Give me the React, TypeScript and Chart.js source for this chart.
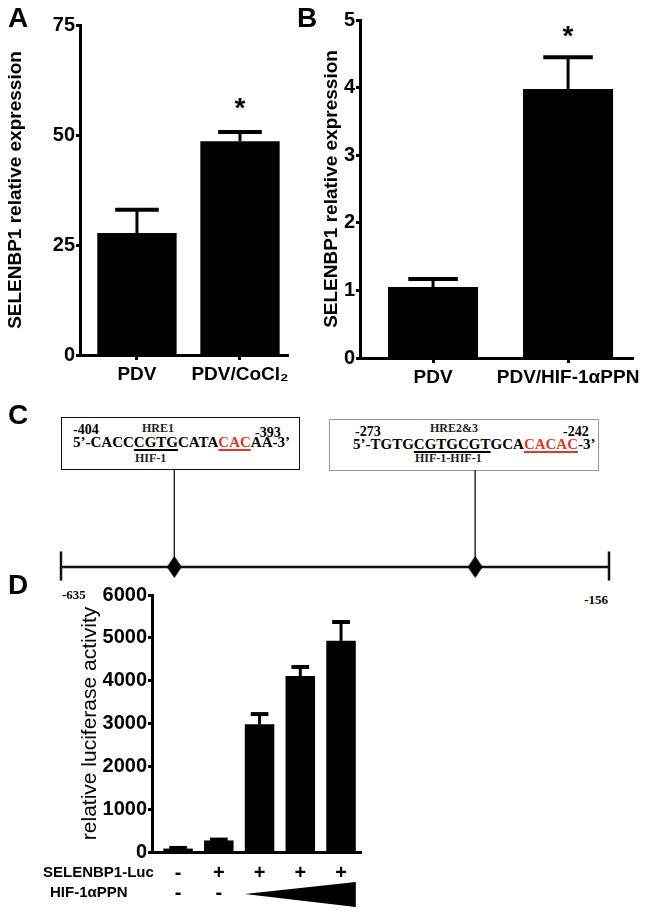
import React, { useEffect, useRef } from 'react';
import { Chart, registerables } from 'chart.js';

Chart.register(...registerables);

const SANS = '"Liberation Sans", Arial, Helvetica, sans-serif';
const SERIF = '"Liberation Serif", "Times New Roman", serif';

// ---------- Panel A ----------
const aLabels = ['PDV', 'PDV/CoCl\u2082'];
const aMeans = [27.7, 48.6];
const aSem = [5.3, 2.1];
const aStars = [false, true];
const aYMax = 75;
const aYStep = 25;

// ---------- Panel B ----------
const bLabels = ['PDV', 'PDV/HIF-1\u03b1PPN'];
const bMeans = [1.05, 3.98];
const bSem = [0.12, 0.47];
const bStars = [false, true];
const bYMax = 5;
const bYStep = 1;

// ---------- Panel C ----------
const promoterRange = [-635, -156];
const hreSites = [-536, -273];

// ---------- Panel D ----------
const dLabels = ['1', '2', '3', '4', '5'];
const dMeans = [80, 270, 2980, 4110, 4930];
const dSem = [15, 20, 240, 210, 440];
const lucRow = ['-', '+', '+', '+', '+'];
const hifRow = ['-', '-', '', '', ''];
const hifWedge = [2, 4];
const dYMax = 6000;
const dYStep = 1000;

const errorBarPlugin = {
  id: 'errorBars',
  afterDatasetsDraw(chart: any, _args: any, opts: any) {
    const { ctx } = chart;
    const meta = chart.getDatasetMeta(0);
    const yScale = chart.scales.y;
    ctx.save();
    ctx.strokeStyle = '#000';
    ctx.fillStyle = '#000';
    meta.data.forEach((bar: any, i: number) => {
      const props = bar.getProps(['x', 'y', 'width'], true);
      const top = yScale.getPixelForValue(opts.means[i] + opts.sem[i]);
      const cap = props.width * opts.capRatio;
      ctx.lineWidth = 3;
      ctx.beginPath();
      ctx.moveTo(props.x, props.y);
      ctx.lineTo(props.x, top);
      ctx.stroke();
      ctx.lineWidth = 4;
      ctx.beginPath();
      ctx.moveTo(props.x - cap / 2, top);
      ctx.lineTo(props.x + cap / 2, top);
      ctx.stroke();
      if (opts.stars && opts.stars[i]) {
        ctx.font = `bold 28px ${SANS}`;
        ctx.textAlign = 'center';
        ctx.textBaseline = 'alphabetic';
        ctx.fillText('*', props.x, top - opts.starGap);
      }
    });
    ctx.restore();
  },
};

const dRowsPlugin = {
  id: 'dRows',
  afterDraw(chart: any) {
    const { ctx } = chart;
    const xScale = chart.scales.x;
    const meta = chart.getDatasetMeta(0);
    const row1 = 293;
    const row2 = 313;
    ctx.save();
    ctx.fillStyle = '#000';
    ctx.textBaseline = 'middle';
    ctx.textAlign = 'left';
    ctx.font = `bold 15px ${SANS}`;
    ctx.fillText('SELENBP1-Luc', 43, row1);
    ctx.fillText('HIF-1\u03b1PPN', 50, row2);
    ctx.font = `bold 20px ${SANS}`;
    ctx.textAlign = 'center';
    lucRow.forEach((s, i) => {
      if (s) ctx.fillText(s, xScale.getPixelForValue(i), row1);
    });
    hifRow.forEach((s, i) => {
      if (s) ctx.fillText(s, xScale.getPixelForValue(i), row2);
    });
    const b0 = meta.data[hifWedge[0]].getProps(['x', 'width'], true);
    const b1 = meta.data[hifWedge[1]].getProps(['x', 'width'], true);
    const x0 = b0.x - b0.width / 2;
    const x1 = b1.x + b1.width / 2;
    ctx.beginPath();
    ctx.moveTo(x0, 314);
    ctx.lineTo(x1, 302);
    ctx.lineTo(x1, 327);
    ctx.closePath();
    ctx.fill();
    ctx.restore();
  },
};

function makeBarChart(canvas: HTMLCanvasElement, cfg: any, extraPlugins: any[] = []) {
  return new Chart(canvas, {
    type: 'bar',
    data: {
      labels: cfg.labels,
      datasets: [
        {
          data: cfg.means,
          backgroundColor: '#000',
          borderWidth: 0,
          barPercentage: cfg.barPct,
          categoryPercentage: 1,
        },
      ],
    },
    options: {
      responsive: false,
      animation: false,
      events: [],
      layout: { padding: cfg.padding },
      plugins: {
        legend: { display: false },
        tooltip: { enabled: false },
        errorBars: {
          means: cfg.means,
          sem: cfg.sem,
          stars: cfg.stars,
          capRatio: cfg.capRatio,
          starGap: cfg.starGap,
        },
      } as any,
      scales: {
        x: {
          afterBuildTicks: (s: any) => {
            s._startValue = cfg.xRange[0];
            s._valueRange = cfg.xRange[1];
          },
          afterFit: (s: any) => {
            s.height = cfg.xHeight;
          },
          border: { display: true, width: 3, color: '#000' },
          grid: {
            display: cfg.xTicks,
            drawOnChartArea: false,
            offset: false,
            tickLength: 5,
            tickWidth: 3,
            tickColor: '#000',
            color: '#000',
          },
          ticks: {
            display: cfg.xLabels,
            color: '#000',
            font: { family: SANS, size: 19, weight: 'bold' },
            padding: 3,
            maxRotation: 0,
            autoSkip: false,
          },
        },
        y: {
          min: 0,
          max: cfg.yMax,
          afterFit: (s: any) => {
            s.width = cfg.yWidth;
          },
          border: { display: true, width: 3, color: '#000' },
          grid: {
            drawOnChartArea: false,
            tickLength: 4,
            tickWidth: 3,
            tickColor: '#000',
            color: '#000',
          },
          ticks: {
            stepSize: cfg.yStep,
            color: '#000',
            font: { family: SANS, size: 20, weight: 'bold' },
            padding: 1,
            callback: (v: any) => String(v),
          },
          title: {
            display: true,
            text: cfg.title,
            color: '#000',
            font: { family: SANS, size: cfg.titleSize, weight: cfg.titleWeight },
            padding: { top: cfg.titlePad, bottom: 0 },
          },
        },
      },
    } as any,
    plugins: [errorBarPlugin, ...extraPlugins],
  });
}

function makeDiamond() {
  const c = document.createElement('canvas');
  c.width = 15;
  c.height = 22;
  const g = c.getContext('2d')!;
  g.fillStyle = '#000';
  g.beginPath();
  g.moveTo(7.5, 0);
  g.lineTo(15, 11);
  g.lineTo(7.5, 22);
  g.lineTo(0, 11);
  g.closePath();
  g.fill();
  return c;
}

const Txt = (p: any) => {
  const size = p.size;
  const style: any = {
    position: 'absolute',
    top: p.base - size * 0.84,
    fontSize: size,
    lineHeight: `${size}px`,
    fontFamily: p.family || SERIF,
    fontWeight: p.weight || 'bold',
    color: p.color || '#000',
    whiteSpace: 'nowrap',
  };
  if (p.right !== undefined) style.right = p.right;
  else style.left = p.x;
  return <div style={style}>{p.children}</div>;
};

const uBlack: any = { textDecoration: 'underline', textDecorationThickness: '1.5px', textUnderlineOffset: '2px' };
const uRed: any = { color: '#e0392b', textDecoration: 'underline', textDecorationThickness: '1.5px', textUnderlineOffset: '2px' };

const panelLetter = (ch: string, x: number, y: number) => (
  <div
    style={{
      position: 'absolute',
      left: x,
      top: y,
      fontFamily: SANS,
      fontWeight: 'bold',
      fontSize: 28,
      lineHeight: '28px',
      color: '#000',
    }}
  >
    {ch}
  </div>
);

export default function App() {
  const aRef = useRef<HTMLCanvasElement>(null);
  const bRef = useRef<HTMLCanvasElement>(null);
  const cRef = useRef<HTMLCanvasElement>(null);
  const dRef = useRef<HTMLCanvasElement>(null);

  useEffect(() => {
    const charts: Chart[] = [];
    charts.push(
      makeBarChart(aRef.current!, {
        labels: aLabels,
        means: aMeans,
        sem: aSem,
        stars: aStars,
        yMax: aYMax,
        yStep: aYStep,
        title: 'SELENBP1 relative expression',
        titleSize: 19,
        titleWeight: 'bold',
        titlePad: 4,
        barPct: 0.77,
        xRange: [-0.553, 2.019],
        padding: { left: 0, top: 25, right: 32, bottom: 0 },
        yWidth: 80,
        xHeight: 45,
        xTicks: true,
        xLabels: true,
        capRatio: 0.55,
        starGap: 15,
      })
    );
    charts.push(
      makeBarChart(bRef.current!, {
        labels: bLabels,
        means: bMeans,
        sem: bSem,
        stars: bStars,
        yMax: bYMax,
        yStep: bYStep,
        title: 'SELENBP1 relative expression',
        titleSize: 19,
        titleWeight: 'bold',
        titlePad: 0,
        barPct: 0.667,
        xRange: [-0.541, 2.022],
        padding: { left: 0, top: 20, right: 17, bottom: 0 },
        yWidth: 40,
        xHeight: 42,
        xTicks: true,
        xLabels: true,
        capRatio: 0.55,
        starGap: 12,
      })
    );
    charts.push(
      makeBarChart(
        dRef.current!,
        {
          labels: dLabels,
          means: dMeans,
          sem: dSem,
          stars: [],
          yMax: dYMax,
          yStep: dYStep,
          title: 'relative luciferase activity',
          titleSize: 21,
          titleWeight: 'normal',
          titlePad: 78,
          barPct: 0.724,
          xRange: [-0.64, 5.13],
          padding: { left: 0, top: 15, right: 19, bottom: 0 },
          yWidth: 152,
          xHeight: 65,
          xTicks: false,
          xLabels: false,
          capRatio: 0.6,
          starGap: 10,
        },
        [dRowsPlugin]
      )
    );

    const diamond = makeDiamond();
    const lineDs = (pts: any[], width: number) => ({
      data: pts,
      showLine: true,
      borderColor: '#111',
      borderWidth: width,
      pointRadius: 0,
      clip: false,
    });
    charts.push(
      new Chart(cRef.current!, {
        type: 'scatter',
        data: {
          datasets: [
            {
              data: hreSites.map((x) => ({ x, y: 0 })),
              pointStyle: diamond as any,
              pointRadius: 8,
              showLine: false,
              clip: false,
            } as any,
            ...hreSites.map((x) => lineDs([{ x, y: 0 }, { x, y: 1 }], 1.3)),
            lineDs(promoterRange.map((x) => ({ x, y: 0 })), 2.5),
            ...promoterRange.map((x) => lineDs([{ x, y: -0.14 }, { x, y: 0.16 }], 2.5)),
          ],
        },
        options: {
          responsive: false,
          animation: false,
          events: [],
          layout: { padding: { left: 61, right: 41, top: 15, bottom: 33 } },
          plugins: { legend: { display: false }, tooltip: { enabled: false } },
          scales: {
            x: { type: 'linear', display: false, min: promoterRange[0], max: promoterRange[1] },
            y: { type: 'linear', display: false, min: 0, max: 1 },
          },
        } as any,
      })
    );
    return () => charts.forEach((c) => c.destroy());
  }, []);

  return (
    <div
      style={{
        position: 'absolute',
        left: 0,
        top: 0,
        width: 650,
        height: 917,
        background: '#fff',
        overflow: 'hidden',
        fontFamily: SANS,
      }}
    >
      <canvas ref={aRef} width={320} height={400} style={{ position: 'absolute', left: 0, top: 0, width: 320, height: 400 }} />
      <canvas ref={bRef} width={330} height={400} style={{ position: 'absolute', left: 320, top: 0, width: 330, height: 400 }} />
      <canvas ref={dRef} width={380} height={337} style={{ position: 'absolute', left: 0, top: 580, width: 380, height: 337 }} />

      {panelLetter('A', 8, 4)}
      {panelLetter('B', 297, 4)}
      {panelLetter('C', 8, 401)}
      {panelLetter('D', 8, 571)}

      {/* Panel C boxes */}
      <div style={{ position: 'absolute', left: 61, top: 417, width: 239, height: 53, boxSizing: 'border-box', border: '1.5px solid #111' }} />
      <div style={{ position: 'absolute', left: 329, top: 419, width: 270, height: 52, boxSizing: 'border-box', border: '1px solid #999' }} />

      <Txt x={73} base={435} size={14}>-404</Txt>
      <Txt x={142} base={432} size={12} color="#222">HRE1</Txt>
      <Txt x={255} base={438} size={14}>-393</Txt>
      <Txt x={73} base={448} size={15}>
        5’-CACC<span style={uBlack}>CGTG</span>CATA<span style={uRed}>CAC</span>AA-3’
      </Txt>
      <Txt x={135} base={462} size={12} color="#222">HIF-1</Txt>

      <Txt x={355} base={437} size={14}>-273</Txt>
      <Txt x={430} base={432} size={12} color="#222">HRE2&amp;3</Txt>
      <Txt x={563} base={437} size={14}>-242</Txt>
      <Txt x={353} base={450} size={15}>
        5’-TGTG<span style={uBlack}>CGTGCGT</span>GCA<span style={uRed}>CACAC</span>-3’
      </Txt>
      <Txt x={415} base={462} size={12} color="#222">HIF-1-HIF-1</Txt>

      <Txt x={62} base={599} size={13}>-635</Txt>
      <Txt right={42} base={604} size={13}>-156</Txt>

      <canvas ref={cRef} width={650} height={145} style={{ position: 'absolute', left: 0, top: 455, width: 650, height: 145 }} />
    </div>
  );
}
